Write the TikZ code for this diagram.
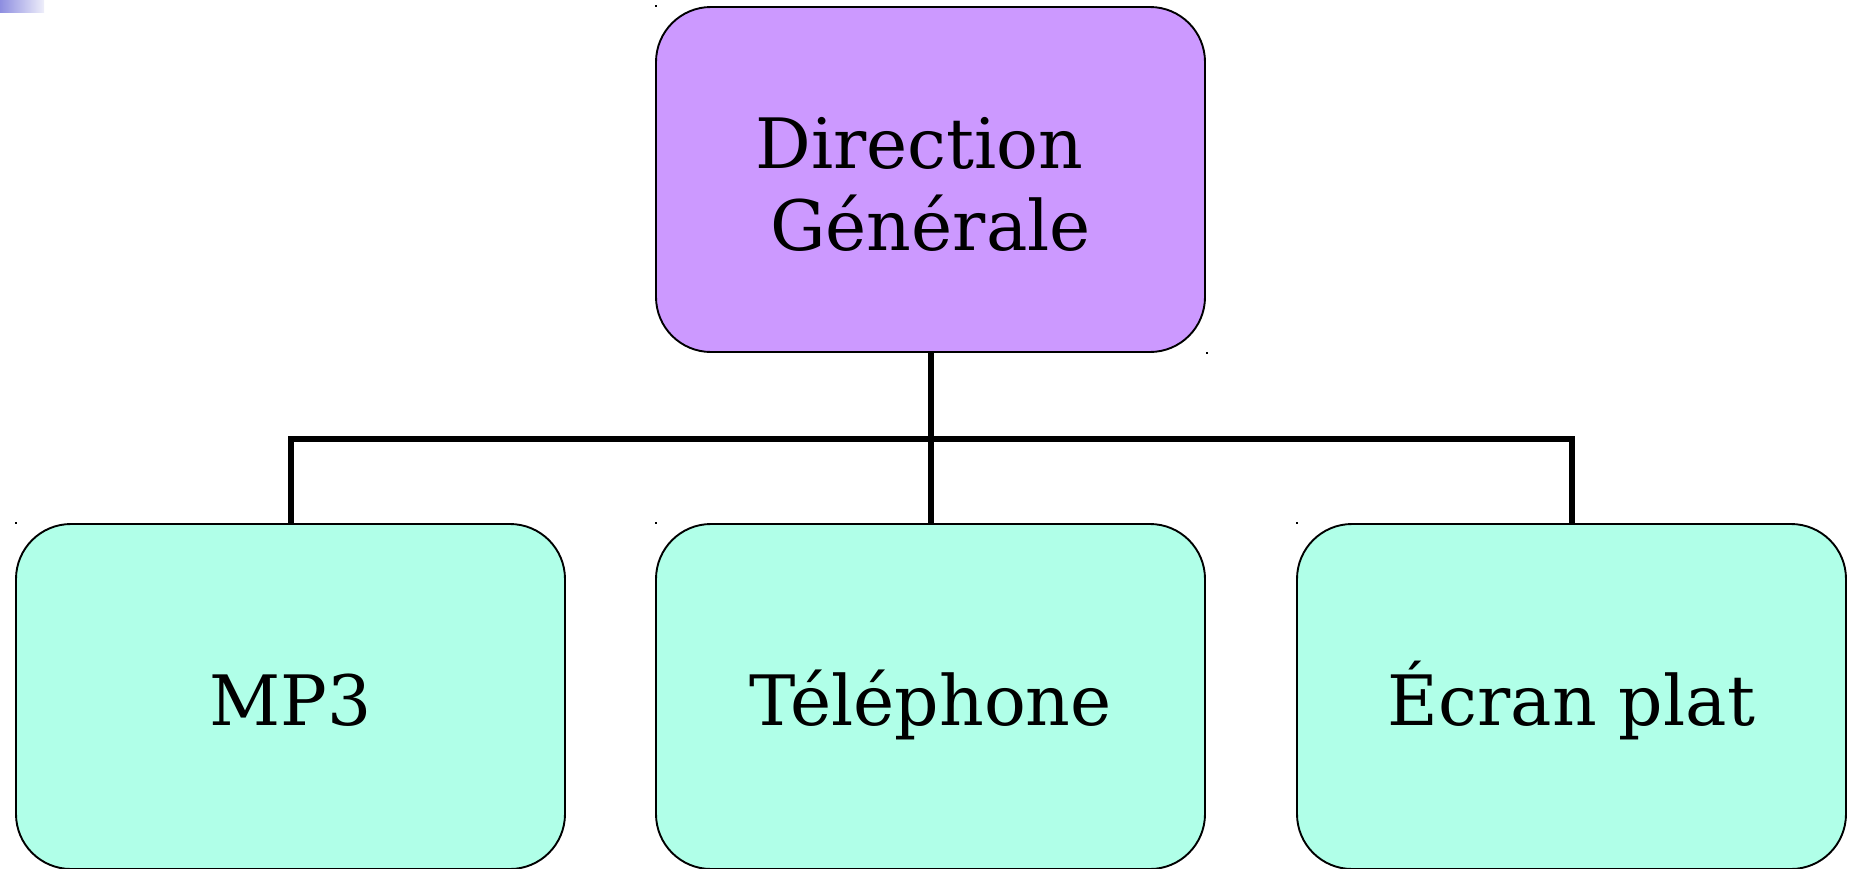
\documentclass[tikz,border=0pt]{standalone}
\usepackage{fontspec}
\setmainfont{DejaVu Serif}
\definecolor{headfill}{HTML}{CC99FF}
\definecolor{unitfill}{HTML}{B0FFE8}
\definecolor{tabdark}{HTML}{8E8EE0}
\definecolor{tablight}{HTML}{EEEEFA}
\tikzset{
  orgbox/.style={draw=black, line width=1.9pt, rounded corners=55pt,
    minimum width=549pt, minimum height=345pt, inner sep=0pt,
    font=\fontsize{69.5}{81.5}\selectfont, align=center},
  headbox/.style={orgbox, fill=headfill, text height=141pt, text depth=0pt},
  unitbox/.style={orgbox, fill=unitfill, text height=57.7pt, text depth=0pt},
  link/.style={draw=black, line width=6pt, line join=miter},
  tick/.style={fill=black}
}
\begin{document}
\begin{tikzpicture}[x=1pt, y=-1pt]
  \useasboundingbox (0,0) rectangle (1852,868);
  % small gradient tab in the corner
  \shade[left color=tabdark, right color=tablight] (0,0) rectangle (44,12);

  % boxes
  \node[headbox] (top) at (930.5,179.5) {Direction\kern22pt\\Générale};
  \node[unitbox] (mp3) at (290.5,696.5) {MP3};
  \node[unitbox] (tel) at (930.5,696.5) {Téléphone};
  \node[unitbox] (ecran) at (1571.5,696.5) {Écran plat};

  % connectors
  \coordinate (bus) at (930.5,438.5);
  \draw[link] (top.south) -- (tel.north);
  \draw[link] (mp3.north) |- (bus) -| (ecran.north);

  % frame marks at box corners
  \foreach \p in {(top.north west),(top.south east),(mp3.north west),(tel.north west),(ecran.north west)}
    \fill[tick] \p ++(0,-1) rectangle ++(2,2);
\end{tikzpicture}
\end{document}
